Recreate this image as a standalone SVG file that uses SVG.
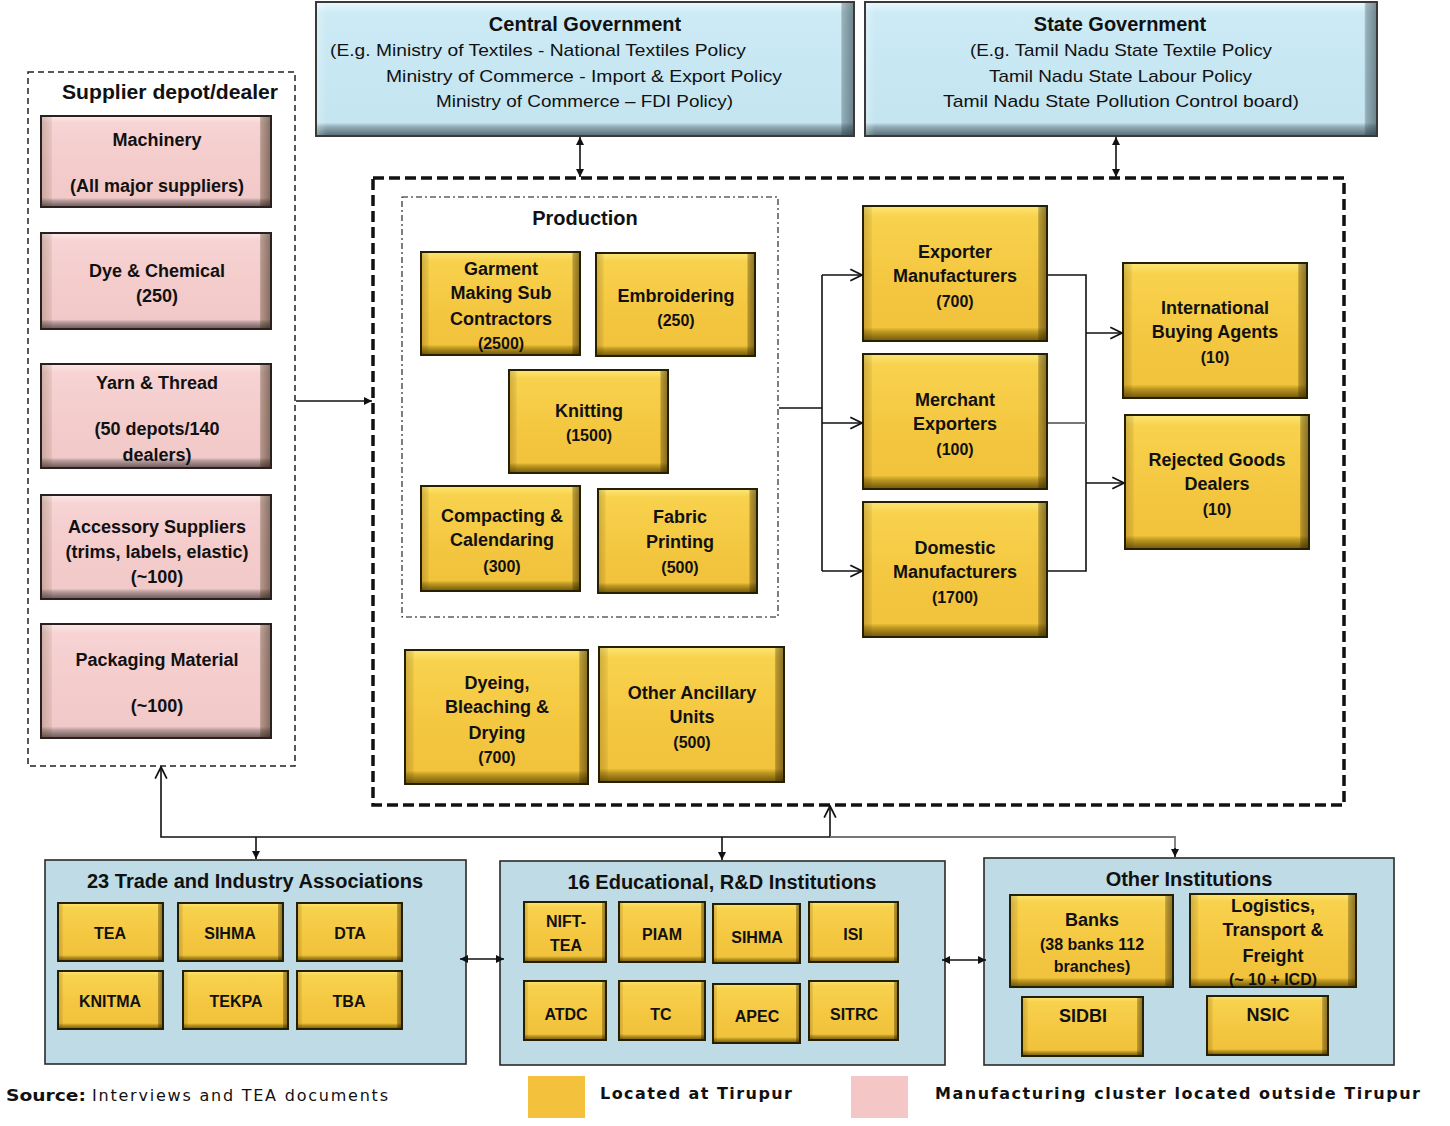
<svg xmlns="http://www.w3.org/2000/svg" width="1450" height="1126" viewBox="0 0 1450 1126">
<defs>
<linearGradient id="gy" x1="0" y1="0" x2="0" y2="1">
<stop offset="0" stop-color="#fde676"/><stop offset="0.08" stop-color="#f8d24d"/><stop offset="0.5" stop-color="#f5c842"/><stop offset="0.9" stop-color="#f1c23c"/><stop offset="0.93" stop-color="#c09a22"/><stop offset="1" stop-color="#6f560c"/>
</linearGradient>
<linearGradient id="gp" x1="0" y1="0" x2="0" y2="1">
<stop offset="0" stop-color="#fde8e8"/><stop offset="0.08" stop-color="#f7d3d3"/><stop offset="0.5" stop-color="#f4cccc"/><stop offset="0.9" stop-color="#f2c9c9"/><stop offset="0.93" stop-color="#b89c9c"/><stop offset="1" stop-color="#6a5555"/>
</linearGradient>
<linearGradient id="gb" x1="0" y1="0" x2="0" y2="1">
<stop offset="0" stop-color="#eaf8fc"/><stop offset="0.08" stop-color="#cdebf5"/><stop offset="0.5" stop-color="#c7e7f3"/><stop offset="0.9" stop-color="#c4e4f0"/><stop offset="0.93" stop-color="#94afba"/><stop offset="1" stop-color="#556b74"/>
</linearGradient>
<linearGradient id="gh" x1="0" y1="0" x2="1" y2="0">
<stop offset="0" stop-color="#3c2a00" stop-opacity="0.22"/><stop offset="0.045" stop-color="#3c2a00" stop-opacity="0.08"/><stop offset="0.05" stop-color="#3c2a00" stop-opacity="0"/><stop offset="0.95" stop-color="#3c2a00" stop-opacity="0"/><stop offset="0.955" stop-color="#2a1e00" stop-opacity="0.3"/><stop offset="1" stop-color="#2a1e00" stop-opacity="0.55"/>
</linearGradient>
<linearGradient id="ghb" x1="0" y1="0" x2="1" y2="0">
<stop offset="0" stop-color="#ffffff" stop-opacity="0.3"/><stop offset="0.02" stop-color="#ffffff" stop-opacity="0"/><stop offset="0.975" stop-color="#203038" stop-opacity="0"/><stop offset="0.978" stop-color="#203038" stop-opacity="0.3"/><stop offset="1" stop-color="#203038" stop-opacity="0.55"/>
</linearGradient>
<marker id="fa" viewBox="0 0 10 10" refX="10" refY="5" markerWidth="8" markerHeight="8" markerUnits="userSpaceOnUse" orient="auto-start-reverse">
<path d="M0,0 L10,5 L0,10 z" fill="#111"/>
</marker>
<marker id="oa" viewBox="0 0 12 12" refX="11" refY="6" markerWidth="14" markerHeight="14" markerUnits="userSpaceOnUse" orient="auto-start-reverse">
<path d="M1,1 L11,6 L1,11" fill="none" stroke="#111" stroke-width="1.5"/>
</marker>
</defs>
<style>
text{font-family:"Liberation Sans",Arial,sans-serif;fill:#111;text-anchor:middle}
.b{font-weight:bold;font-size:18px}
.n{font-weight:bold;font-size:16px}
.t{font-weight:bold;font-size:20px}
.g{font-size:17px;text-anchor:start}
.yf{fill:url(#gy)}
.pf{fill:url(#gp)}
.bf{fill:url(#gb)}
.bz{fill:url(#gh);stroke:#262000;stroke-width:2}
.bzp{fill:url(#gh);stroke:#2a2020;stroke-width:2}
.bzb{fill:url(#ghb);stroke:#3a3a3a;stroke-width:2}
.cont{fill:#bedbe6;stroke:#2a2a2a;stroke-width:1.6}
.ln{fill:none;stroke:#111;stroke-width:1.6}
.lg{fill:none;stroke:#777;stroke-width:1.8}
.lgd{font-family:"DejaVu Sans",Verdana,sans-serif;font-weight:bold;font-size:16px;text-anchor:start}
.lgn{font-family:"DejaVu Sans",Verdana,sans-serif;font-weight:normal;font-size:16px;text-anchor:start}
</style>
<rect width="1450" height="1126" fill="#fff"/>

<g id="frames">
<rect x="28" y="72" width="267" height="694" fill="none" stroke="#222" stroke-width="1.5" stroke-dasharray="6 4"/>
<rect x="373" y="178" width="971" height="627" fill="none" stroke="#111" stroke-width="3.5" stroke-dasharray="11 5"/>
<rect x="402" y="197" width="376" height="420" fill="none" stroke="#111" stroke-width="1.1" stroke-dasharray="6 3 2 3"/>
<text class="t" x="170" y="99" textLength="216" lengthAdjust="spacingAndGlyphs">Supplier depot/dealer</text>
<text class="t" x="585" y="225">Production</text>
</g>

<g id="central-gov">
<rect class="bf" x="316" y="2" width="538" height="134"/><rect class="bzb" x="316" y="2" width="538" height="134"/>
<text class="t" x="585" y="31">Central Government</text>
<text class="g" x="330" y="56" textLength="416" lengthAdjust="spacingAndGlyphs">(E.g. Ministry of Textiles - National Textiles Policy</text>
<text class="g" x="386" y="82" textLength="396" lengthAdjust="spacingAndGlyphs">Ministry of Commerce - Import &amp; Export Policy</text>
<text class="g" x="436" y="107" textLength="297" lengthAdjust="spacingAndGlyphs">Ministry of Commerce – FDI Policy)</text>
</g>
<g id="state-gov">
<rect class="bf" x="865" y="2" width="512" height="134"/><rect class="bzb" x="865" y="2" width="512" height="134"/>
<text class="t" x="1120" y="31">State Government</text>
<text class="g" x="970" y="56" textLength="302" lengthAdjust="spacingAndGlyphs">(E.g. Tamil Nadu State Textile Policy</text>
<text class="g" x="989" y="82" textLength="263" lengthAdjust="spacingAndGlyphs">Tamil Nadu State Labour Policy</text>
<text class="g" x="943" y="107" textLength="356" lengthAdjust="spacingAndGlyphs">Tamil Nadu State Pollution Control board)</text>
</g>

<g id="machinery">
<rect class="pf" x="41" y="116" width="230" height="91"/><rect class="bzp" x="41" y="116" width="230" height="91"/>
<text class="b" x="157" y="146">Machinery</text>
<text class="b" x="157" y="192">(All major suppliers)</text>
</g>
<g id="dye-chemical">
<rect class="pf" x="41" y="233" width="230" height="96"/><rect class="bzp" x="41" y="233" width="230" height="96"/>
<text class="b" x="157" y="277">Dye &amp; Chemical</text>
<text class="b" x="157" y="302">(250)</text>
</g>
<g id="yarn-thread">
<rect class="pf" x="41" y="364" width="230" height="104"/><rect class="bzp" x="41" y="364" width="230" height="104"/>
<text class="b" x="157" y="389">Yarn &amp; Thread</text>
<text class="b" x="157" y="435">(50 depots/140</text>
<text class="b" x="157" y="461">dealers)</text>
</g>
<g id="accessory">
<rect class="pf" x="41" y="495" width="230" height="104"/><rect class="bzp" x="41" y="495" width="230" height="104"/>
<text class="b" x="157" y="533">Accessory Suppliers</text>
<text class="b" x="157" y="558">(trims, labels, elastic)</text>
<text class="b" x="157" y="583">(~100)</text>
</g>
<g id="packaging">
<rect class="pf" x="41" y="624" width="230" height="114"/><rect class="bzp" x="41" y="624" width="230" height="114"/>
<text class="b" x="157" y="666">Packaging Material</text>
<text class="b" x="157" y="712">(~100)</text>
</g>

<g id="garment">
<rect class="yf" x="421" y="252" width="159" height="103"/><rect class="bz" x="421" y="252" width="159" height="103"/>
<text class="b" x="501" y="275">Garment</text>
<text class="b" x="501" y="299">Making Sub</text>
<text class="b" x="501" y="325">Contractors</text>
<text class="n" x="501" y="349">(2500)</text>
</g>
<g id="embroidering">
<rect class="yf" x="596" y="253" width="159" height="103"/><rect class="bz" x="596" y="253" width="159" height="103"/>
<text class="b" x="676" y="302">Embroidering</text>
<text class="n" x="676" y="326">(250)</text>
</g>
<g id="knitting">
<rect class="yf" x="509" y="370" width="159" height="103"/><rect class="bz" x="509" y="370" width="159" height="103"/>
<text class="b" x="589" y="417">Knitting</text>
<text class="n" x="589" y="441">(1500)</text>
</g>
<g id="compacting">
<rect class="yf" x="421" y="486" width="159" height="105"/><rect class="bz" x="421" y="486" width="159" height="105"/>
<text class="b" x="502" y="522">Compacting &amp;</text>
<text class="b" x="502" y="546">Calendaring</text>
<text class="n" x="502" y="572">(300)</text>
</g>
<g id="fabric-printing">
<rect class="yf" x="598" y="489" width="159" height="104"/><rect class="bz" x="598" y="489" width="159" height="104"/>
<text class="b" x="680" y="523">Fabric</text>
<text class="b" x="680" y="548">Printing</text>
<text class="n" x="680" y="573">(500)</text>
</g>
<g id="dyeing">
<rect class="yf" x="405" y="650" width="183" height="134"/><rect class="bz" x="405" y="650" width="183" height="134"/>
<text class="b" x="497" y="689">Dyeing,</text>
<text class="b" x="497" y="713">Bleaching &amp;</text>
<text class="b" x="497" y="739">Drying</text>
<text class="n" x="497" y="763">(700)</text>
</g>
<g id="ancillary">
<rect class="yf" x="599" y="647" width="185" height="135"/><rect class="bz" x="599" y="647" width="185" height="135"/>
<text class="b" x="692" y="699">Other Ancillary</text>
<text class="b" x="692" y="723">Units</text>
<text class="n" x="692" y="748">(500)</text>
</g>

<g id="exporter-mfr">
<rect class="yf" x="863" y="206" width="184" height="135"/><rect class="bz" x="863" y="206" width="184" height="135"/>
<text class="b" x="955" y="258">Exporter</text>
<text class="b" x="955" y="282">Manufacturers</text>
<text class="n" x="955" y="307">(700)</text>
</g>
<g id="merchant">
<rect class="yf" x="863" y="354" width="184" height="135"/><rect class="bz" x="863" y="354" width="184" height="135"/>
<text class="b" x="955" y="406">Merchant</text>
<text class="b" x="955" y="430">Exporters</text>
<text class="n" x="955" y="455">(100)</text>
</g>
<g id="domestic">
<rect class="yf" x="863" y="502" width="184" height="135"/><rect class="bz" x="863" y="502" width="184" height="135"/>
<text class="b" x="955" y="554">Domestic</text>
<text class="b" x="955" y="578">Manufacturers</text>
<text class="n" x="955" y="603">(1700)</text>
</g>
<g id="intl-buying">
<rect class="yf" x="1123" y="263" width="184" height="135"/><rect class="bz" x="1123" y="263" width="184" height="135"/>
<text class="b" x="1215" y="314">International</text>
<text class="b" x="1215" y="338">Buying Agents</text>
<text class="n" x="1215" y="363">(10)</text>
</g>
<g id="rejected">
<rect class="yf" x="1125" y="415" width="184" height="134"/><rect class="bz" x="1125" y="415" width="184" height="134"/>
<text class="b" x="1217" y="466">Rejected Goods</text>
<text class="b" x="1217" y="490">Dealers</text>
<text class="n" x="1217" y="515">(10)</text>
</g>

<g id="trade-assoc">
<rect class="cont" x="45" y="860" width="421" height="204"/>
<text class="t" x="255" y="888">23 Trade and Industry Associations</text>
<rect class="yf" x="58" y="903" width="105" height="58"/><rect class="bz" x="58" y="903" width="105" height="58"/><text class="n" x="110" y="939">TEA</text>
<rect class="yf" x="178" y="903" width="105" height="58"/><rect class="bz" x="178" y="903" width="105" height="58"/><text class="n" x="230" y="939">SIHMA</text>
<rect class="yf" x="297" y="903" width="105" height="58"/><rect class="bz" x="297" y="903" width="105" height="58"/><text class="n" x="350" y="939">DTA</text>
<rect class="yf" x="58" y="971" width="105" height="58"/><rect class="bz" x="58" y="971" width="105" height="58"/><text class="n" x="110" y="1007">KNITMA</text>
<rect class="yf" x="183" y="971" width="105" height="58"/><rect class="bz" x="183" y="971" width="105" height="58"/><text class="n" x="236" y="1007">TEKPA</text>
<rect class="yf" x="297" y="971" width="105" height="58"/><rect class="bz" x="297" y="971" width="105" height="58"/><text class="n" x="349" y="1007">TBA</text>
</g>

<g id="educational">
<rect class="cont" x="500" y="861" width="445" height="204"/>
<text class="t" x="722" y="889">16 Educational, R&amp;D Institutions</text>
<rect class="yf" x="524" y="902" width="82" height="60"/><rect class="bz" x="524" y="902" width="82" height="60"/><text class="n" x="566" y="927">NIFT-</text><text class="n" x="566" y="951">TEA</text>
<rect class="yf" x="619" y="902" width="86" height="60"/><rect class="bz" x="619" y="902" width="86" height="60"/><text class="n" x="662" y="940">PIAM</text>
<rect class="yf" x="713" y="904" width="87" height="59"/><rect class="bz" x="713" y="904" width="87" height="59"/><text class="n" x="757" y="943">SIHMA</text>
<rect class="yf" x="809" y="902" width="89" height="60"/><rect class="bz" x="809" y="902" width="89" height="60"/><text class="n" x="853" y="940">ISI</text>
<rect class="yf" x="524" y="981" width="82" height="59"/><rect class="bz" x="524" y="981" width="82" height="59"/><text class="n" x="566" y="1020">ATDC</text>
<rect class="yf" x="619" y="981" width="86" height="59"/><rect class="bz" x="619" y="981" width="86" height="59"/><text class="n" x="661" y="1020">TC</text>
<rect class="yf" x="713" y="984" width="87" height="59"/><rect class="bz" x="713" y="984" width="87" height="59"/><text class="n" x="757" y="1022">APEC</text>
<rect class="yf" x="809" y="981" width="89" height="59"/><rect class="bz" x="809" y="981" width="89" height="59"/><text class="n" x="854" y="1020">SITRC</text>
</g>

<g id="other-inst">
<rect class="cont" x="984" y="858" width="410" height="207"/>
<text class="t" x="1189" y="886">Other Institutions</text>
<rect class="yf" x="1010" y="895" width="163" height="92"/><rect class="bz" x="1010" y="895" width="163" height="92"/>
<text class="b" x="1092" y="926">Banks</text>
<text class="n" x="1092" y="950">(38 banks 112</text>
<text class="n" x="1092" y="972">branches)</text>
<rect class="yf" x="1190" y="894" width="166" height="93"/><rect class="bz" x="1190" y="894" width="166" height="93"/>
<text class="b" x="1273" y="912">Logistics,</text>
<text class="b" x="1273" y="936">Transport &amp;</text>
<text class="b" x="1273" y="962">Freight</text>
<text class="n" x="1273" y="985">(~ 10  + ICD)</text>
<rect class="yf" x="1022" y="997" width="121" height="59"/><rect class="bz" x="1022" y="997" width="121" height="59"/><text class="b" x="1083" y="1022">SIDBI</text>
<rect class="yf" x="1207" y="996" width="121" height="59"/><rect class="bz" x="1207" y="996" width="121" height="59"/><text class="b" x="1268" y="1021">NSIC</text>
</g>

<g id="connectors">
<line class="ln" x1="580" y1="137" x2="580" y2="177" marker-start="url(#fa)" marker-end="url(#fa)"/>
<line class="ln" x1="1116" y1="137" x2="1116" y2="177" marker-start="url(#fa)" marker-end="url(#fa)"/>
<line class="ln" x1="296" y1="401" x2="372" y2="401" marker-end="url(#fa)"/>
<line class="ln" x1="779" y1="408" x2="822" y2="408"/>
<line class="ln" x1="822" y1="275" x2="822" y2="571"/>
<line class="ln" x1="822" y1="275" x2="862" y2="275" marker-end="url(#oa)"/>
<line class="ln" x1="822" y1="423" x2="862" y2="423" marker-end="url(#oa)"/>
<line class="ln" x1="822" y1="571" x2="862" y2="571" marker-end="url(#oa)"/>
<polyline class="ln" points="1048,275 1086,275 1086,571 1048,571"/>
<line class="lg" x1="1048" y1="423" x2="1086" y2="423"/>
<line class="ln" x1="1086" y1="333" x2="1122" y2="333" marker-end="url(#oa)"/>
<line class="ln" x1="1086" y1="483" x2="1124" y2="483" marker-end="url(#oa)"/>
<polyline class="ln" points="161,767 161,837 830,837" marker-start="url(#oa)"/>
<line class="ln" x1="830" y1="837" x2="830" y2="806" marker-end="url(#oa)"/>
<polyline class="lg" points="830,837 1175,837 1175,850"/>
<line class="ln" x1="1175" y1="848" x2="1175" y2="857" marker-end="url(#fa)"/>
<line class="ln" x1="256" y1="837" x2="256" y2="859" marker-end="url(#fa)"/>
<line class="ln" x1="722" y1="837" x2="722" y2="860" marker-end="url(#fa)"/>
<line class="ln" x1="460" y1="959" x2="504" y2="959" marker-start="url(#fa)" marker-end="url(#fa)"/>
<line class="ln" x1="942" y1="960" x2="986" y2="960" marker-start="url(#fa)" marker-end="url(#fa)"/>
</g>

<g id="legend">
<text class="lgd" x="6" y="1101" textLength="80" lengthAdjust="spacingAndGlyphs">Source:</text>
<text class="lgn" x="92" y="1101" textLength="296">Interviews and TEA documents</text>
<rect x="528" y="1076" width="57" height="42" fill="#f4c13c"/>
<text class="lgd" x="600" y="1099" textLength="192">Located at Tirupur</text>
<rect x="851" y="1076" width="57" height="42" fill="#f5c6c6"/>
<text class="lgd" x="935" y="1099" textLength="485">Manufacturing cluster located outside Tirupur</text>
</g>
</svg>
